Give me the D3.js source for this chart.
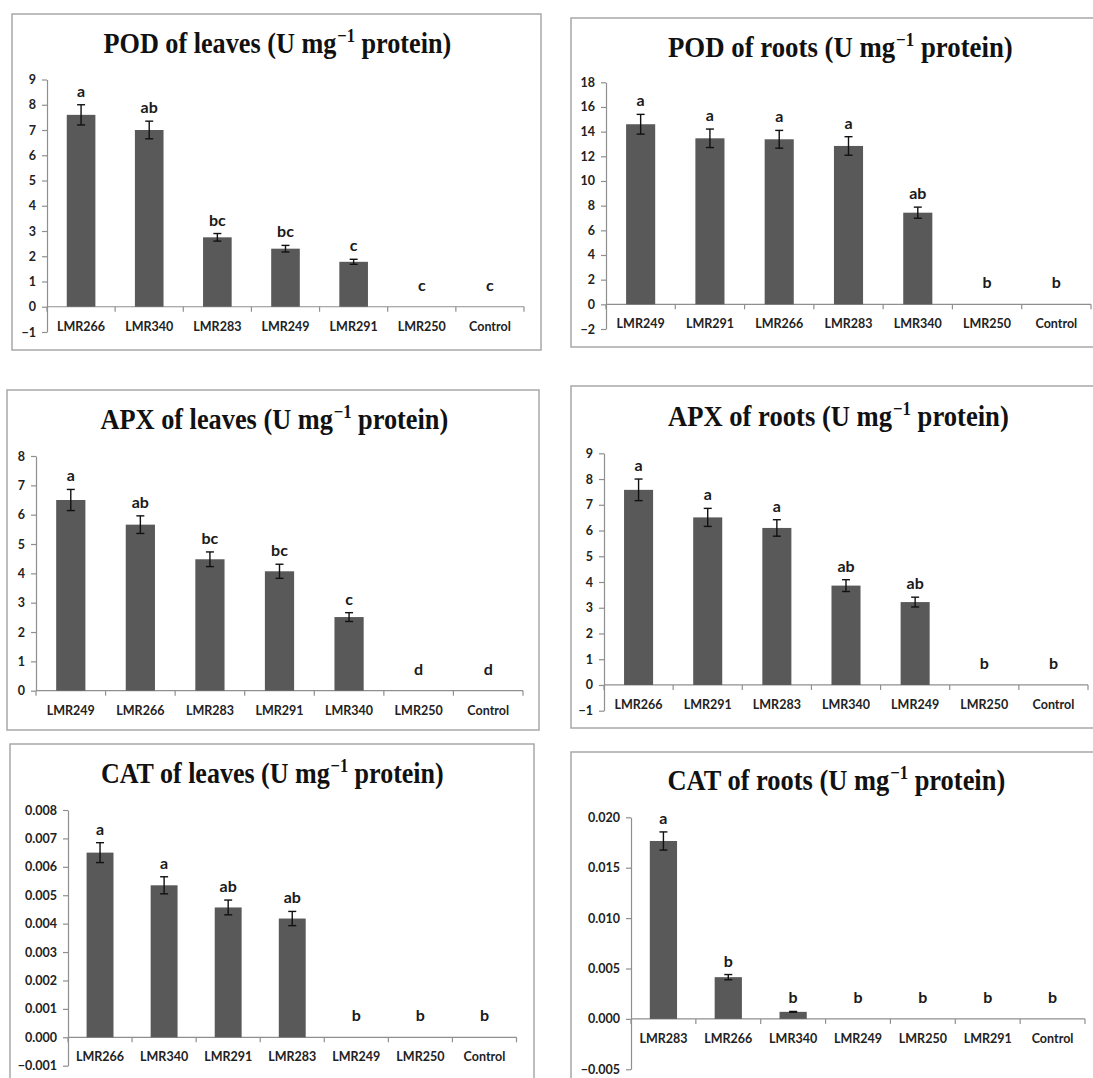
<!DOCTYPE html>
<html>
<head>
<meta charset="utf-8">
<script src="https://cdn.jsdelivr.net/npm/d3@7/dist/d3.min.js"></script>
<style>
  html, body { margin: 0; padding: 0; background: #fff; }
  svg { display: block; }
</style>
</head>
<body>
<svg id="fig" width="1093" height="1078"></svg>
<script>
// ---- POD of leaves ----
const podLeavesCats    = ["LMR266", "LMR340", "LMR283", "LMR249", "LMR291", "LMR250", "Control"];
const podLeavesVals    = [7.6, 7.0, 2.75, 2.3, 1.78, 0, 0];
const podLeavesErr     = [0.4, 0.35, 0.15, 0.13, 0.1, 0, 0];
const podLeavesLetters = ["a", "ab", "bc", "bc", "c", "c", "c"];
const podLeavesTicks   = [-1, 0, 1, 2, 3, 4, 5, 6, 7, 8, 9];

// ---- POD of roots ----
const podRootsCats    = ["LMR249", "LMR291", "LMR266", "LMR283", "LMR340", "LMR250", "Control"];
const podRootsVals    = [14.6, 13.46, 13.38, 12.84, 7.43, 0, 0];
const podRootsErr     = [0.8, 0.75, 0.72, 0.75, 0.45, 0, 0];
const podRootsLetters = ["a", "a", "a", "a", "ab", "b", "b"];
const podRootsTicks   = [-2, 0, 2, 4, 6, 8, 10, 12, 14, 16, 18];

// ---- APX of leaves ----
const apxLeavesCats    = ["LMR249", "LMR266", "LMR283", "LMR291", "LMR340", "LMR250", "Control"];
const apxLeavesVals    = [6.5, 5.66, 4.48, 4.07, 2.51, 0, 0];
const apxLeavesErr     = [0.36, 0.3, 0.25, 0.24, 0.15, 0, 0];
const apxLeavesLetters = ["a", "ab", "bc", "bc", "c", "d", "d"];
const apxLeavesTicks   = [0, 1, 2, 3, 4, 5, 6, 7, 8];

// ---- APX of roots ----
const apxRootsCats    = ["LMR266", "LMR291", "LMR283", "LMR340", "LMR249", "LMR250", "Control"];
const apxRootsVals    = [7.58, 6.51, 6.1, 3.86, 3.22, 0, 0];
const apxRootsErr     = [0.42, 0.35, 0.32, 0.23, 0.19, 0, 0];
const apxRootsLetters = ["a", "a", "a", "ab", "ab", "b", "b"];
const apxRootsTicks   = [-1, 0, 1, 2, 3, 4, 5, 6, 7, 8, 9];

// ---- CAT of leaves ----
const catLeavesCats    = ["LMR266", "LMR340", "LMR291", "LMR283", "LMR249", "LMR250", "Control"];
const catLeavesVals    = [0.0065, 0.00535, 0.00457, 0.00418, 0, 0, 0];
const catLeavesErr     = [0.00035, 0.0003, 0.00026, 0.00025, 0, 0, 0];
const catLeavesLetters = ["a", "a", "ab", "ab", "b", "b", "b"];
const catLeavesTicks   = [-0.001, 0, 0.001, 0.002, 0.003, 0.004, 0.005, 0.006, 0.007, 0.008];

// ---- CAT of roots ----
const catRootsCats    = ["LMR283", "LMR266", "LMR340", "LMR249", "LMR250", "LMR291", "Control"];
const catRootsVals    = [0.01765, 0.00414, 0.0007, 0, 0, 0, 0];
const catRootsErr     = [0.0009, 0.00026, 0.00004, 0, 0, 0, 0];
const catRootsLetters = ["a", "b", "b", "b", "b", "b", "b"];
const catRootsTicks   = [-0.005, 0, 0.005, 0.010, 0.015, 0.020];

// Panel layout: frame box, plot area and title placement
const panels = [
  { title: ["POD of leaves (U mg", "\u22121", " protein)"],
    cats: podLeavesCats, vals: podLeavesVals, err: podLeavesErr, letters: podLeavesLetters,
    ticks: podLeavesTicks, fmt: d3.format("d"),
    frame: [12, 14, 529, 336], titleX: 277, titleY: 53, titleW: 347,
    x0: 47, x1: 524, yTop: 79.5, yBot: 332 },
  { title: ["POD of roots (U mg", "\u22121", " protein)"],
    cats: podRootsCats, vals: podRootsVals, err: podRootsErr, letters: podRootsLetters,
    ticks: podRootsTicks, fmt: d3.format("d"),
    frame: [571, 18, 540, 329], titleX: 840, titleY: 57, titleW: 344,
    x0: 606, x1: 1091, yTop: 82.3, yBot: 329 },
  { title: ["APX of leaves (U mg", "\u22121", " protein)"],
    cats: apxLeavesCats, vals: apxLeavesVals, err: apxLeavesErr, letters: apxLeavesLetters,
    ticks: apxLeavesTicks, fmt: d3.format("d"),
    frame: [7, 390, 532, 340], titleX: 274, titleY: 429, titleW: 347,
    x0: 36, x1: 523, yTop: 456, yBot: 690.7 },
  { title: ["APX of roots (U mg", "\u22121", " protein)"],
    cats: apxRootsCats, vals: apxRootsVals, err: apxRootsErr, letters: apxRootsLetters,
    ticks: apxRootsTicks, fmt: d3.format("d"),
    frame: [571, 386, 540, 342], titleX: 838, titleY: 426, titleW: 340,
    x0: 604, x1: 1088, yTop: 453.3, yBot: 710.7 },
  { title: ["CAT of leaves (U mg", "\u22121", " protein)"],
    cats: catLeavesCats, vals: catLeavesVals, err: catLeavesErr, letters: catLeavesLetters,
    ticks: catLeavesTicks, fmt: d3.format(".3f"),
    frame: [10, 744, 524, 360], titleX: 272, titleY: 783, titleW: 342,
    x0: 68, x1: 516.5, yTop: 810, yBot: 1065.7 },
  { title: ["CAT of roots (U mg", "\u22121", " protein)"],
    cats: catRootsCats, vals: catRootsVals, err: catRootsErr, letters: catRootsLetters,
    ticks: catRootsTicks, fmt: d3.format(".3f"),
    frame: [571, 752, 540, 360], titleX: 836, titleY: 790, titleW: 337,
    x0: 631, x1: 1085, yTop: 817.3, yBot: 1069.3 }
];

const svg = d3.select("#fig");
svg.append("rect").attr("width", 1093).attr("height", 1078).attr("fill", "#fff");

const BAR = "#595959", AXIS = "#8f8f8f", FRAME = "#a8a8a8", TXT = "#222";
const labelFont = "Lato, 'Open Sans', sans-serif";

panels.forEach(p => {
  const g = svg.append("g");

  // chart frame
  g.append("rect")
    .attr("x", p.frame[0]).attr("y", p.frame[1])
    .attr("width", p.frame[2]).attr("height", p.frame[3])
    .attr("fill", "#fff").attr("stroke", FRAME).attr("stroke-width", 1.5);

  // title with superscript exponent, fitted to its width
  const t = g.append("text")
    .attr("x", 0).attr("y", 0)
    .attr("font-family", "'Liberation Serif', 'Times New Roman', serif")
    .attr("font-weight", "bold").attr("font-size", 30).attr("fill", "#111");
  t.append("tspan").text(p.title[0]);
  t.append("tspan").attr("font-size", 19).attr("dy", -11).attr("dx", 1).text(p.title[1]);
  t.append("tspan").attr("dy", 11).text(p.title[2]);
  const tw = t.node().getComputedTextLength();
  const sx = p.titleW / tw;
  t.attr("transform", `translate(${p.titleX - p.titleW / 2},${p.titleY}) scale(${sx},1)`);

  // scales
  const y = d3.scaleLinear()
    .domain([p.ticks[0], p.ticks[p.ticks.length - 1]])
    .range([p.yBot, p.yTop]);
  const x = d3.scaleBand().domain(p.cats).range([p.x0, p.x1])
    .paddingInner(0.58).paddingOuter(0.29);
  const y0 = y(0);

  // y axis
  const ya = g.append("g").attr("transform", `translate(${p.x0},0)`)
    .call(d3.axisLeft(y).tickValues(p.ticks).tickFormat(p.fmt)
      .tickSize(5).tickSizeOuter(0).tickPadding(6));
  ya.select(".domain").attr("stroke", AXIS).attr("stroke-width", 1.2);
  ya.selectAll(".tick line").attr("stroke", AXIS).attr("stroke-width", 1.2);
  ya.selectAll(".tick text").attr("font-family", labelFont).attr("font-weight", "bold")
    .attr("font-size", 12.5).attr("fill", TXT);

  // x axis line at zero with boundary ticks between categories
  g.append("line").attr("x1", p.x0).attr("x2", p.x1).attr("y1", y0).attr("y2", y0)
    .attr("stroke", AXIS).attr("stroke-width", 1.2);
  g.selectAll(".xb").data(d3.range(p.cats.length + 1)).join("line")
    .attr("x1", i => p.x0 + i * x.step()).attr("x2", i => p.x0 + i * x.step())
    .attr("y1", y0).attr("y2", y0 + 5)
    .attr("stroke", AXIS).attr("stroke-width", 1.2);

  // category labels
  const xa = g.append("g").attr("transform", `translate(0,${y0})`)
    .call(d3.axisBottom(x).tickSize(0).tickPadding(15));
  xa.select(".domain").remove();
  xa.selectAll(".tick text").attr("font-family", labelFont).attr("font-weight", "bold")
    .attr("font-size", 12.5).attr("fill", TXT);

  const rows = p.cats.map((c, i) => ({ c, v: p.vals[i], e: p.err[i], l: p.letters[i] }));

  // bars
  g.selectAll(".bar").data(rows.filter(d => d.v > 0)).join("rect")
    .attr("x", d => x(d.c)).attr("width", x.bandwidth())
    .attr("y", d => y(d.v)).attr("height", d => y0 - y(d.v))
    .attr("fill", BAR);

  // error bars
  const eb = g.selectAll(".eb").data(rows.filter(d => d.e > 0)).join("g");
  const cx = d => x(d.c) + x.bandwidth() / 2;
  eb.append("line").attr("x1", cx).attr("x2", cx)
    .attr("y1", d => y(d.v + d.e)).attr("y2", d => y(d.v - d.e))
    .attr("stroke", "#111").attr("stroke-width", 1.4);
  eb.append("line").attr("x1", d => cx(d) - 4).attr("x2", d => cx(d) + 4)
    .attr("y1", d => y(d.v + d.e)).attr("y2", d => y(d.v + d.e))
    .attr("stroke", "#111").attr("stroke-width", 1.4);
  eb.append("line").attr("x1", d => cx(d) - 4).attr("x2", d => cx(d) + 4)
    .attr("y1", d => y(d.v - d.e)).attr("y2", d => y(d.v - d.e))
    .attr("stroke", "#111").attr("stroke-width", 1.4);

  // significance letters
  g.selectAll(".sig").data(rows).join("text")
    .attr("x", cx)
    .attr("y", d => Math.min(y(d.v + d.e) - 8, y0 - 16))
    .attr("text-anchor", "middle")
    .attr("font-family", labelFont).attr("font-weight", "bold")
    .attr("font-size", 16).attr("fill", "#1a1a1a")
    .text(d => d.l);
});
</script>
</body>
</html>
